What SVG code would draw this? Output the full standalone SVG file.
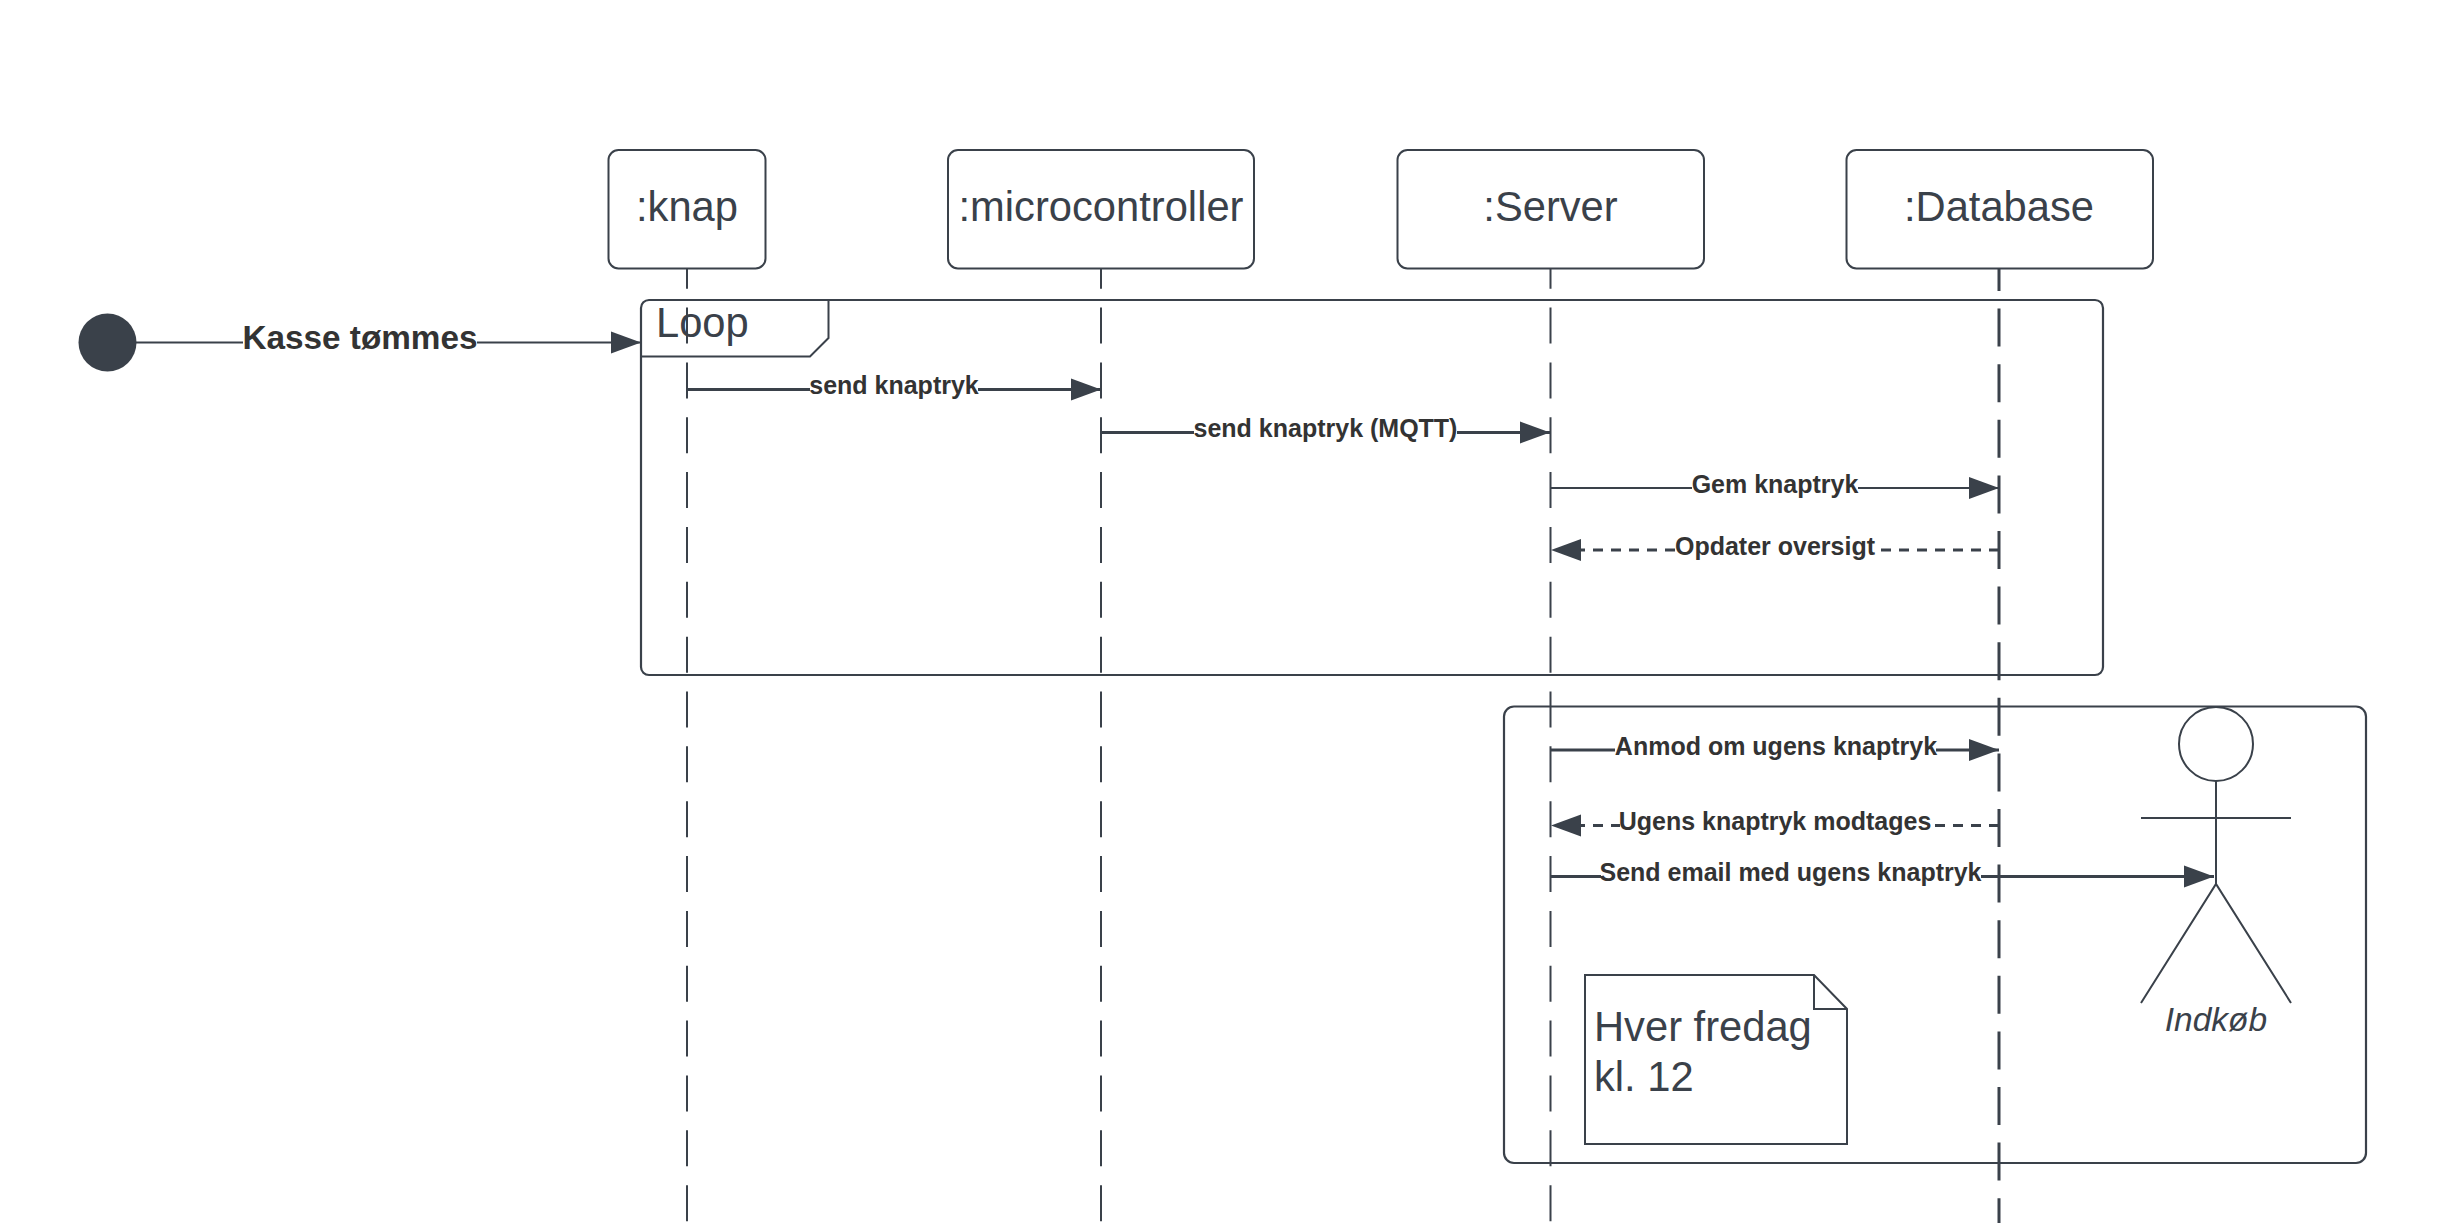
<svg xmlns="http://www.w3.org/2000/svg" width="2441" height="1223" viewBox="0 0 2441 1223">
<defs>
<style>
.box{fill:#fff;stroke:#3a414a;stroke-width:2}
.frame{fill:none;stroke:#3a414a;stroke-width:2.2}
.shape{fill:none;stroke:#3a414a;stroke-width:2}
.life{fill:none;stroke:#3a414a;stroke-width:2;stroke-dasharray:36 18.85;stroke-dashoffset:16.3}
.lifedb{fill:none;stroke:#3a414a;stroke-width:3;stroke-dasharray:38 17.6;stroke-dashoffset:16}
.msg{fill:none;stroke:#3a414a;stroke-width:3;marker-end:url(#arrow)}
.dash{stroke-dasharray:10 8}
.t{font-family:"Liberation Sans",Arial,sans-serif;fill:#3a414a;font-size:41.7px}
.c{text-anchor:middle}
.l{font-family:"Liberation Sans",Arial,sans-serif;font-weight:bold;fill:#333;font-size:25px;text-anchor:middle}
.bg{fill:#fff;stroke:none}
</style>
<marker id="arrow" markerUnits="userSpaceOnUse" markerWidth="31" markerHeight="24" refX="30" refY="12" orient="auto-start-reverse">
<path d="M0 1L30 12L0 23Z" fill="#3a414a"/>
</marker>
</defs>
<rect width="2441" height="1223" fill="#fff"/>
<g id="node-knap"><rect class="box" x="608.500" y="150" width="157" height="118.500" rx="10"/><text class="t c" x="687" y="221">:knap</text></g>
<g id="node-microcontroller"><rect class="box" x="948" y="150" width="306" height="118.500" rx="10"/><text class="t c" x="1101" y="221">:microcontroller</text></g>
<g id="node-server"><rect class="box" x="1397.500" y="150" width="306.500" height="118.500" rx="10"/><text class="t c" x="1550.5" y="221">:Server</text></g>
<g id="node-database"><rect class="box" x="1846.500" y="150" width="306.500" height="118.500" rx="10"/><text class="t c" x="1999" y="221">:Database</text></g>
<g id="node-start"><circle cx="107.500" cy="342.500" r="29" fill="#3a414a"/></g>
<g id="node-loop">
<rect class="frame" x="641" y="300" width="1462" height="375" rx="8"/>
<path class="shape" d="M641 356.500H810L828.500 338V300"/>
<text class="t" x="656" y="336.500">Loop</text>
</g>
<g id="node-weekly"><rect class="frame" x="1504" y="706.500" width="862" height="456.500" rx="10"/></g>
<g id="node-note">
<path class="box" d="M1585 975H1814L1847 1009V1144H1585Z"/>
<path class="shape" d="M1814 975V1009H1847"/>
<text class="t" x="1594" y="1041">Hver fredag</text>
<text class="t" x="1594" y="1091">kl. 12</text>
</g>
<g id="node-actor">
<circle class="shape" cx="2216" cy="744" r="37"/>
<path class="shape" d="M2216 781V884M2141 818H2291M2141 1003L2216 884L2291 1003"/>
<text class="t c" x="2216" y="1031" style="font-size:33.5px;font-style:italic">Indkøb</text>
</g>
<g id="connectors">
<path class="life" d="M687 269V1223"/>
<path class="life" d="M1101 269V1223"/>
<path class="life" d="M1550.500 269V1223"/>
<path class="lifedb" d="M1999 269V1223"/>
<path class="msg" style="stroke-width:2.200" d="M136 342.500H641"/>
<rect class="bg" x="243" y="320" width="234" height="36"/>
<text class="l" style="font-size:33.300px" x="360" y="349">Kasse tømmes</text>
<path class="msg" d="M687 389.500H1101"/>
<rect class="bg" x="810" y="372" width="168" height="28"/>
<text class="l" x="894" y="394">send knaptryk</text>
<path class="msg" d="M1101 432.500H1550"/>
<rect class="bg" x="1194" y="415" width="263" height="28"/>
<text class="l" x="1325.500" y="437">send knaptryk (MQTT)</text>
<path class="msg" style="stroke-width:2.200" d="M1551 488H1999"/>
<rect class="bg" x="1692" y="471" width="166" height="28"/>
<text class="l" x="1775" y="492.500">Gem knaptryk</text>
<path class="msg dash" d="M1999 550H1551" />
<rect class="bg" x="1675" y="533" width="200" height="28"/>
<text class="l" x="1775" y="555">Opdater oversigt</text>
<path class="msg" d="M1551 750H1999"/>
<rect class="bg" x="1615" y="733" width="321" height="28"/>
<text class="l" x="1776" y="755">Anmod om ugens knaptryk</text>
<path class="msg dash" d="M1999 825.500H1551"/>
<rect class="bg" x="1620" y="808" width="311" height="28"/>
<text class="l" x="1775" y="830">Ugens knaptryk modtages</text>
<path class="msg" d="M1551 876.500H2214"/>
<rect class="bg" x="1601" y="859" width="380" height="28"/>
<text class="l" x="1790.500" y="881">Send email med ugens knaptryk</text>
</g>
</svg>
